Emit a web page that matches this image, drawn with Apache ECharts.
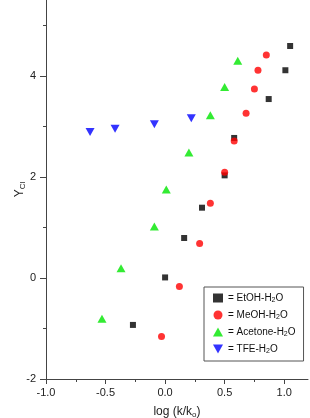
<!DOCTYPE html>
<html>
<head>
<meta charset="utf-8">
<script src="https://cdn.jsdelivr.net/npm/echarts@6/dist/echarts.min.js"></script>
<style>
html, body { margin: 0; padding: 0; background: #fff; }
#main { width: 310px; height: 418px; }
</style>
</head>
<body>
<div id="main"></div>
<script>
// values
var etohX = [1.05, 1.01, 0.87, 0.58, 0.50, 0.31, 0.16, 0.00, -0.27];
var etohY = [4.59, 4.11, 3.54, 2.77, 2.03, 1.39, 0.79, 0.01, -0.93];
var meohX = [0.85, 0.78, 0.75, 0.68, 0.58, 0.50, 0.38, 0.29, 0.12, -0.03];
var meohY = [4.41, 4.11, 3.74, 3.26, 2.71, 2.09, 1.48, 0.68, -0.17, -1.16];
var acetX = [0.61, 0.50, 0.38, 0.20, 0.01, -0.09, -0.37, -0.53];
var acetY = [4.30, 3.78, 3.22, 2.48, 1.75, 1.02, 0.19, -0.81];
var tfeX = [-0.63, -0.42, -0.09, 0.22];
var tfeY = [2.89, 2.95, 3.04, 3.16];

var names = ['EtOH', 'MeOH', 'Acetone', 'TFE'];
var xTicks = [-1.0, -0.5, 0.0, 0.5, 1.0];
var yTicks = [-2, 0, 2, 4];

function pairs(xs, ys) {
  var out = [];
  for (var i = 0; i < xs.length; i++) out.push([xs[i], ys[i]]);
  return out;
}

var myChart = echarts.init(document.getElementById('main'));
var font = 'Liberation Sans, Arial, sans-serif';

option = {
  animation: false,
  grid: { left: 46, right: 2, top: 0, bottom: 39, outerBoundsMode: 'none' },
  legend: {
    orient: 'vertical',
    left: 204,
    top: 287,
    width: 104,
    padding: [6, 8, 6, 9],
    itemGap: 6,
    itemWidth: 10,
    itemHeight: 9,
    borderColor: '#555',
    borderWidth: 1,
    data: names,
    formatter: function (n) {
      return '= ' + n + '-H{s|2}O';
    },
    textStyle: {
      fontFamily: font, fontSize: 10, color: '#111', letterSpacing: -0.7,
      rich: { s: { fontSize: 7, padding: [5, 0, 0, 0], fontFamily: font, color: '#111' } }
    }
  },
  xAxis: {
    type: 'value',
    min: -1.0,
    max: 1.2,
    interval: 0.5,
    name: 'log (k/k{s|o})',
    nameLocation: 'middle',
    nameGap: 25,
    nameMoveOverlap: false,
    nameTextStyle: {
      fontFamily: font, fontSize: 12, color: '#222',
      rich: { s: { fontSize: 8, padding: [7, 0, 0, 0], fontFamily: font, color: '#222' } }
    },
    splitLine: { show: false },
    axisLine: { onZero: false, lineStyle: { color: '#444', width: 1 } },
    axisTick: { show: true, length: 5, lineStyle: { color: '#444' },
      customValues: xTicks },
    minorTick: { show: true, splitNumber: 2, length: 3, lineStyle: { color: '#444' } },
    axisLabel: {
      fontFamily: font, fontSize: 11, color: '#222', margin: 8,
      customValues: xTicks,
      formatter: function (v) { return v.toFixed(1); }
    }
  },
  yAxis: {
    type: 'value',
    min: -2,
    max: 5.5,
    interval: 2,
    name: 'Y{s|Cl}',
    nameLocation: 'middle',
    nameGap: 19,
    nameRotate: 90,
    nameMoveOverlap: false,
    nameTextStyle: {
      fontFamily: font, fontSize: 12, color: '#222',
      rich: { s: { fontSize: 8, padding: [7, 0, 0, 0], fontFamily: font, color: '#222' } }
    },
    splitLine: { show: false },
    axisLine: { onZero: false, lineStyle: { color: '#444', width: 1 } },
    axisTick: { show: true, length: 6, lineStyle: { color: '#444' },
      customValues: yTicks },
    minorTick: { show: true, splitNumber: 2, length: 3, lineStyle: { color: '#444' } },
    axisLabel: {
      fontFamily: font, fontSize: 11, color: '#222', margin: 10,
      customValues: yTicks
    }
  },
  series: [
    { name: 'EtOH', type: 'scatter', symbol: 'rect', symbolSize: 6,
      itemStyle: { color: '#000' }, data: pairs(etohX, etohY) },
    { name: 'MeOH', type: 'scatter', symbol: 'circle', symbolSize: 7,
      itemStyle: { color: '#ff0000' }, data: pairs(meohX, meohY) },
    { name: 'Acetone', type: 'scatter', symbol: 'triangle', symbolSize: [9, 8],
      itemStyle: { color: '#00e600' }, data: pairs(acetX, acetY) },
    { name: 'TFE', type: 'scatter', symbol: 'path://M0,0 L10,0 L5,9 Z', symbolSize: [9, 8],
      itemStyle: { color: '#0000ff' }, data: pairs(tfeX, tfeY) }
  ]
};

myChart.setOption(option);
</script>
</body>
</html>
